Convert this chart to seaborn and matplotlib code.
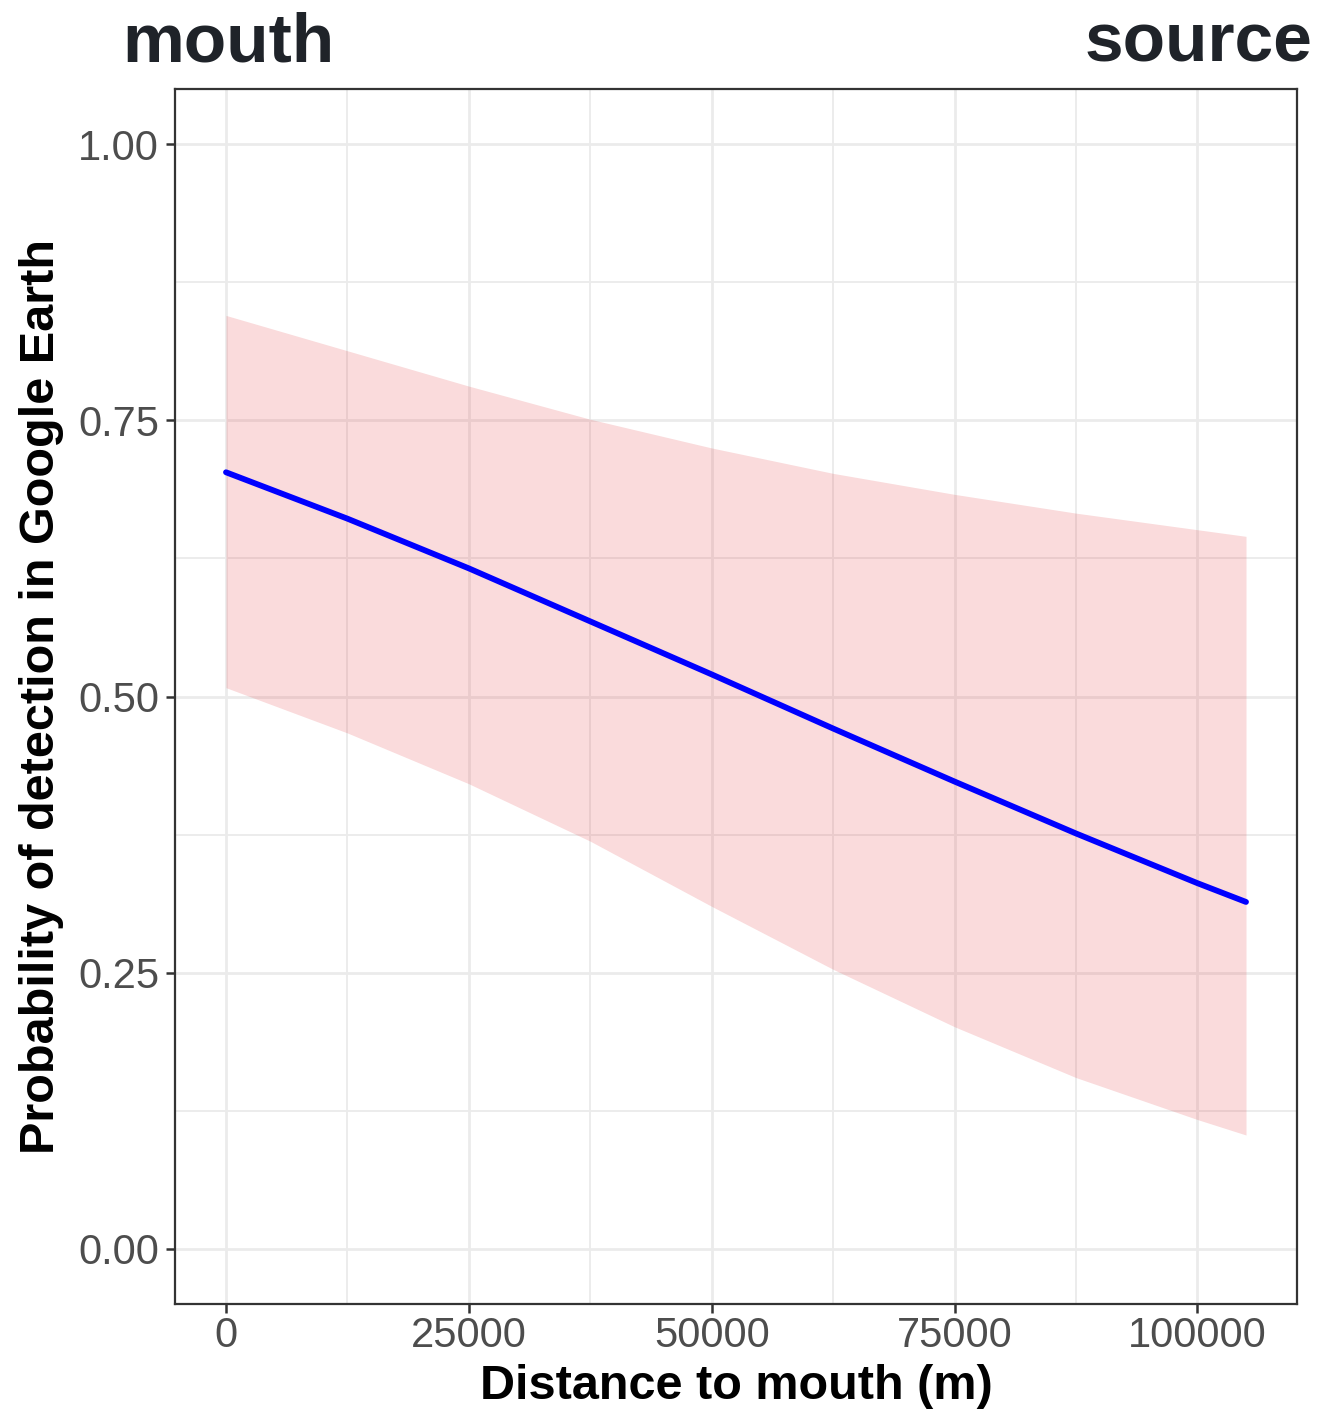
import matplotlib
matplotlib.use("Agg")
import matplotlib.pyplot as plt
from matplotlib.ticker import FixedLocator
import seaborn as sns
import pandas as pd

# ---- data ----
distance = [0, 12500, 25000, 37500, 50000, 62500, 75000, 87500, 100000, 105000]
fit = [0.703, 0.661, 0.616, 0.568, 0.520, 0.471, 0.423, 0.376, 0.331, 0.314]
upper = [0.845, 0.813, 0.781, 0.751, 0.725, 0.702, 0.683, 0.666, 0.651, 0.645]
lower = [0.508, 0.467, 0.421, 0.369, 0.310, 0.253, 0.201, 0.155, 0.117, 0.103]

x_ticks = [0, 25000, 50000, 75000, 100000]
x_tick_labels = ["0", "25000", "50000", "75000", "100000"]
x_minor = [12500, 37500, 62500, 87500]
y_ticks = [0.0, 0.25, 0.5, 0.75, 1.0]
y_tick_labels = ["0.00", "0.25", "0.50", "0.75", "1.00"]
y_minor = [0.125, 0.375, 0.625, 0.875]

x_title = "Distance to mouth (m)"
y_title = "Probability of detection in Google Earth"
left_label = "mouth"
right_label = "source"

df = pd.DataFrame({"distance": distance, "fit": fit, "upper": upper, "lower": lower})

sns.set_theme(style="white")
plt.rcParams["font.family"] = ["Liberation Sans", "DejaVu Sans"]

fig = plt.figure(figsize=(13.22, 14.09), dpi=100)
ax = fig.add_axes([175 / 1322, 1 - 1304 / 1409, (1297 - 175) / 1322, (1304 - 89) / 1409])
ax.set_facecolor("white")

ax.fill_between(df["distance"], df["lower"], df["upper"], color="#E64B50",
                alpha=0.2, linewidth=0, zorder=2)
sns.lineplot(data=df, x="distance", y="fit", ax=ax, color="#0000FF",
             linewidth=4.2, zorder=3, estimator=None, sort=True)

ax.set_xlim(-5250, 110250)
ax.set_ylim(-0.05, 1.05)

ax.xaxis.set_major_locator(FixedLocator(x_ticks))
ax.set_xticklabels(x_tick_labels)
ax.xaxis.set_minor_locator(FixedLocator(x_minor))
ax.yaxis.set_major_locator(FixedLocator(y_ticks))
ax.set_yticklabels(y_tick_labels)
ax.yaxis.set_minor_locator(FixedLocator(y_minor))

ax.set_axisbelow(True)
ax.grid(True, which="major", color="#EBEBEB", linewidth=2.0, zorder=0)
ax.grid(True, which="minor", color="#EBEBEB", linewidth=1.3, zorder=0)

ax.tick_params(axis="both", which="major", length=6.5, width=1.8, color="#333333",
               labelsize=30, labelcolor="#4D4D4D", direction="out",
               bottom=True, left=True)
ax.tick_params(axis="x", which="major", pad=2)
ax.tick_params(axis="y", which="major", pad=5)
ax.tick_params(axis="both", which="minor", length=0)

for sp in ax.spines.values():
    sp.set_visible(True)
    sp.set_color("#333333")
    sp.set_linewidth(1.6)

ax.set_xlabel(x_title, fontsize=35, fontweight="bold", color="black", labelpad=6)
ax.set_ylabel(y_title, fontsize=35, fontweight="bold", color="black", labelpad=10)

fig.text(122 / 1322, 1 - 62 / 1409, left_label, fontsize=50, fontweight="bold",
         color="#1F2329", ha="left", va="baseline")
fig.text(1312 / 1322, 1 - 62 / 1409, right_label, fontsize=50, fontweight="bold",
         color="#1F2329", ha="right", va="baseline")

fig.savefig("out.png", dpi=100, facecolor="white")
